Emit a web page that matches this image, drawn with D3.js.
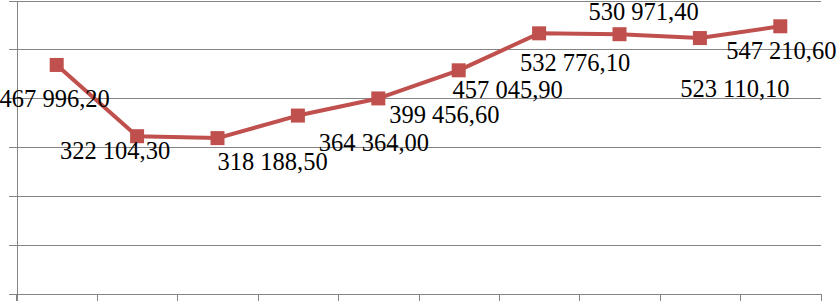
<!DOCTYPE html>
<html>
<head>
<meta charset="utf-8">
<script src="https://cdn.jsdelivr.net/npm/d3@7"></script>
<style>
    html, body { margin: 0; padding: 0; background: #fff; overflow: hidden; }
    svg { display: block; }
    .grid line { stroke: #848484; stroke-width: 1px; shape-rendering: crispEdges; }
    .axis path, .axis line { stroke: #848484; stroke-width: 1px; shape-rendering: crispEdges; }
    .label { font-family: "Liberation Serif", "Times New Roman", serif; font-size: 24.5px; fill: #000; }
</style>
</head>
<body>
<svg id="chart"></svg>
<script>
'use strict';

var width = 837,
    height = 301;

// Data (category labels are cut off in the picture)
var categories = ["1", "2", "3", "4", "5", "6", "7", "8", "9", "10"];
var values = [467996.20, 322104.30, 318188.50, 364364.00, 399456.60,
              457045.90, 532776.10, 530971.40, 523110.10, 547210.60];
var value_labels = ["467 996,20", "322 104,30", "318 188,50", "364 364,00", "399 456,60",
                    "457 045,90", "532 776,10", "530 971,40", "523 110,10", "547 210,60"];
var y_ticks = [0, 100000, 200000, 300000, 400000, 500000, 600000];

// Label placement relative to each point (dx, dy to baseline)
var label_offsets = [[-2, 42], [-22, 23], [55, 32], [76, 35], [66, 25],
                     [49, 28], [36, 38], [24, -14], [35, 59], [1, 33]];

var colors = {
    line: "#C0504D",
    grid: "#848484",
};

var margin = {left: 16.5, right: 16.5, top: 0.5, bottom: 7.5};

var svg = d3.select("#chart")
    .attr("width", width)
    .attr("height", height);

var x = d3.scaleBand()
    .domain(categories)
    .range([margin.left, width - margin.right])
    .padding(0);

// boundaries between categories, for the bottom tick marks
var x_edges = d3.scaleLinear()
    .domain([0, categories.length])
    .range([margin.left, width - margin.right]);

var y = d3.scaleLinear()
    .domain([0, 600000])
    .range([height - margin.bottom, margin.top]);

// Horizontal gridlines
svg.append("g")
    .attr("class", "grid")
    .attr("transform", "translate(" + margin.left + ",0)")
    .call(d3.axisLeft(y)
        .tickValues(y_ticks)
        .tickSize(-(width - margin.left - margin.right))
        .tickFormat(""))
    .call(g => g.select(".domain").remove());

// Left axis with the small ticks outside
svg.append("g")
    .attr("class", "axis")
    .attr("transform", "translate(" + margin.left + ",0)")
    .call(d3.axisLeft(y)
        .tickValues(y_ticks)
        .tickSize(8)
        .tickSizeOuter(0)
        .tickFormat(""));

// Bottom axis
svg.append("g")
    .attr("class", "axis")
    .attr("transform", "translate(0," + y(0) + ")")
    .call(d3.axisBottom(x_edges)
        .tickValues(d3.range(categories.length + 1))
        .tickSize(8)
        .tickSizeOuter(0)
        .tickFormat(""));

// vertical axis continues down past the bottom axis
svg.append("line")
    .attr("x1", margin.left).attr("x2", margin.left)
    .attr("y1", y(0)).attr("y2", height)
    .attr("stroke", colors.grid)
    .attr("shape-rendering", "crispEdges");

var cx = (d, i) => x(categories[i]) + x.bandwidth() / 2;

var line = d3.line()
    .x(cx)
    .y(d => y(d));

svg.append("path")
    .datum(values)
    .attr("fill", "none")
    .attr("stroke", colors.line)
    .attr("stroke-width", 4)
    .attr("stroke-linejoin", "round")
    .attr("d", line);

var ms = 14;
svg.selectAll("rect.marker")
    .data(values)
    .enter().append("rect")
    .attr("class", "marker")
    .attr("x", (d, i) => cx(d, i) - ms / 2)
    .attr("y", d => y(d) - ms / 2)
    .attr("width", ms)
    .attr("height", ms)
    .attr("fill", colors.line);

svg.selectAll("text.label")
    .data(values)
    .enter().append("text")
    .attr("class", "label")
    .attr("text-anchor", "middle")
    .attr("x", (d, i) => cx(d, i) + label_offsets[i][0])
    .attr("y", (d, i) => y(d) + label_offsets[i][1])
    .text((d, i) => value_labels[i]);
</script>
</body>
</html>
